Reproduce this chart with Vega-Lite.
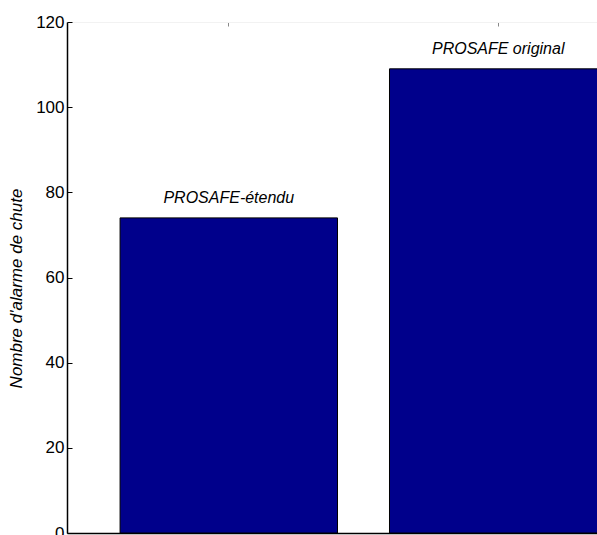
{
  "$schema": "https://vega.github.io/schema/vega-lite/v6.json",
  "width": 530,
  "height": 511,
  "autosize": {"type": "none"},
  "padding": {"left": 67, "top": 22, "right": 0, "bottom": 2},
  "background": "white",
  "config": {
    "view": {"stroke": null},
    "font": "Liberation Sans"
  },
  "data": {
    "values": [
      {"methode": "PROSAFE-étendu", "alarmes": 74},
      {"methode": "PROSAFE original", "alarmes": 109}
    ]
  },
  "encoding": {
    "x": {
      "field": "methode",
      "type": "nominal",
      "sort": null,
      "scale": {"domain": ["PROSAFE-étendu", "PROSAFE original"], "range": [0, 593], "paddingInner": 0.193, "paddingOuter": 0.197}
    },
    "y": {
      "field": "alarmes",
      "type": "quantitative",
      "scale": {"domain": [0, 120], "nice": false, "zero": true},
      "axis": {
        "title": "Nombre d'alarme de chute",
        "titleFont": "Liberation Sans",
        "titleFontSize": 17,
        "titleFontStyle": "italic",
        "titleFontWeight": "normal",
        "titleColor": "black",
        "titlePadding": 10,
        "titleY": 266,
        "values": [0, 20, 40, 60, 80, 100, 120],
        "grid": false,
        "domainColor": "black",
        "domainWidth": 1.5,
        "tickColor": "black",
        "tickSize": -5,
        "tickWidth": 1,
        "labelPadding": 8,
        "labelFontSize": 17,
        "labelColor": "black",
        "labelFont": "Liberation Sans"
      }
    }
  },
  "layer": [
    {
      "mark": {"type": "bar", "color": "#00008B", "stroke": "black", "strokeWidth": 1, "clip": true},
      "encoding": {
        "x": {
          "field": "methode",
          "type": "nominal",
          "sort": null,
          "axis": {
            "orient": "bottom",
            "title": null,
            "labels": false,
            "ticks": false,
            "domainColor": "black",
            "domainWidth": 1.5
          }
        }
      }
    },
    {
      "mark": {"type": "text", "dy": -15, "baseline": "alphabetic", "align": "center", "fontSize": 16, "fontStyle": "italic", "font": "Liberation Sans", "color": "black"},
      "encoding": {
        "text": {"field": "methode"},
        "x": {
          "field": "methode",
          "type": "nominal",
          "sort": null,
          "axis": {
            "orient": "top",
            "title": null,
            "labels": false,
            "ticks": true,
            "tickSize": -4,
            "tickColor": "#888888",
            "domainColor": "#f2f2f2",
            "domainWidth": 1
          }
        }
      }
    }
  ]
}
